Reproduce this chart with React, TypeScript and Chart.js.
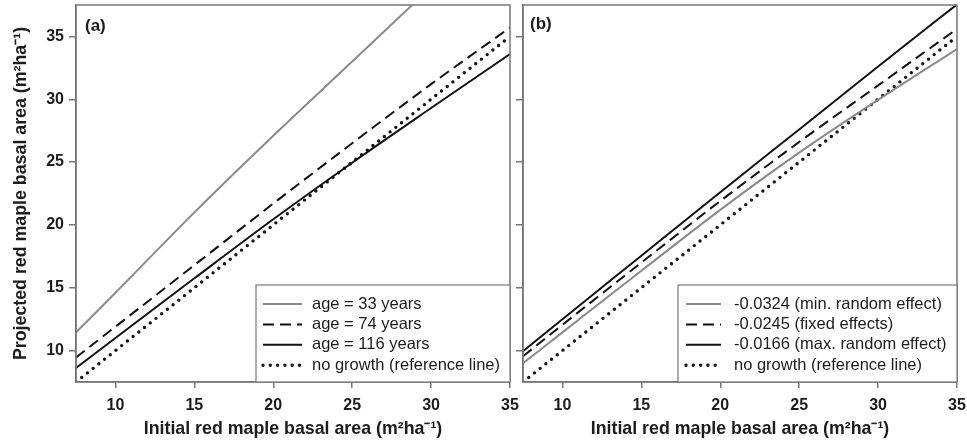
import React, { useEffect, useRef } from "react";
import { Chart, registerables } from "chart.js";

Chart.register(...registerables);

// ---------- data ----------
const basalArea = [7.5, 10, 15, 20, 25, 30, 35];

// panel (a): stand age effect
const age33 = [11.45, 14.6, 21.0, 27.1, 33.0, 38.9, 44.6];
const age74 = [9.45, 11.9, 16.8, 21.7, 26.5, 31.2, 35.7];
const age116 = [8.62, 11.0, 15.75, 20.45, 24.95, 29.3, 33.6];
const noGrowth = [7.5, 10, 15, 20, 25, 30, 35];

// panel (b): random effect of the coefficient
const minRandom = [9.0, 11.45, 16.35, 21.2, 25.75, 29.95, 34.0];
const fixedEffects = [9.55, 12.05, 17.0, 21.9, 26.6, 31.1, 35.6];
const maxRandom = [9.95, 12.5, 17.55, 22.6, 27.6, 32.6, 37.55];

const xTickValues = [10, 15, 20, 25, 30, 35];
const yTickValues = [10, 15, 20, 25, 30, 35];

const panelALabels = ["age = 33 years", "age = 74 years", "age = 116 years", "no growth (reference line)"];
const panelBLabels = [
  "-0.0324 (min. random effect)",
  "-0.0245 (fixed effects)",
  "-0.0166 (max. random effect)",
  "no growth (reference line)",
];

const xTitle = "Initial red maple basal area (m²ha⁻¹)";
const yTitle = "Projected red maple basal area (m²ha⁻¹)";

// ---------- styles ----------
const FONT = "'Liberation Sans', Arial, Helvetica, sans-serif";
const GRAY = "#8a8a8a";
const FRAME = "#777777";
const TEXT = "#1c1c1c";
const BLACK = "#111111";

const styleGray = { borderColor: GRAY, borderWidth: 2, borderDash: [] as number[], borderCapStyle: "butt" };
const styleDashed = { borderColor: BLACK, borderWidth: 2, borderDash: [11, 6], borderCapStyle: "butt" };
const styleSolid = { borderColor: BLACK, borderWidth: 2, borderDash: [] as number[], borderCapStyle: "butt" };
const styleDotted = { borderColor: BLACK, borderWidth: 3.4, borderDash: [0, 7.3], borderCapStyle: "round" };

const pts = (ys: number[]) => basalArea.map((x, i) => ({ x, y: ys[i] }));

const decorPlugin = {
  id: "panelDecor",
  afterDatasetsDraw(chart: any, _args: any, opts: any) {
    const { ctx, chartArea: ca } = chart;
    ctx.save();
    // frame
    ctx.strokeStyle = FRAME;
    ctx.lineWidth = 1.5;
    ctx.setLineDash([]);
    ctx.strokeRect(ca.left, ca.top, ca.right - ca.left, ca.bottom - ca.top);
    // panel tag
    ctx.fillStyle = TEXT;
    ctx.font = `bold 17px ${FONT}`;
    ctx.textBaseline = "middle";
    ctx.textAlign = "left";
    ctx.fillText(opts.tag, ca.left + opts.tagDx, ca.top + opts.tagDy);
    // legend box
    const bx = ca.right - opts.boxWidth;
    const by = ca.bottom - opts.boxHeight;
    ctx.fillStyle = "#ffffff";
    ctx.fillRect(bx, by, opts.boxWidth, opts.boxHeight);
    ctx.strokeStyle = FRAME;
    ctx.lineWidth = 1.2;
    ctx.strokeRect(bx, by, opts.boxWidth, opts.boxHeight);
    chart.data.datasets.forEach((ds: any, i: number) => {
      const y = by + opts.rowTop + i * opts.rowGap;
      ctx.save();
      ctx.strokeStyle = ds.borderColor;
      ctx.lineWidth = ds.borderWidth;
      ctx.setLineDash(ds.borderDash || []);
      ctx.lineCap = ds.borderCapStyle || "butt";
      ctx.beginPath();
      ctx.moveTo(bx + opts.sampleX, y);
      ctx.lineTo(bx + opts.sampleX + opts.sampleLen, y);
      ctx.stroke();
      ctx.restore();
      ctx.fillStyle = TEXT;
      ctx.font = `16.5px ${FONT}`;
      ctx.textBaseline = "middle";
      ctx.textAlign = "left";
      ctx.fillText(ds.label, bx + opts.textX, y);
    });
    ctx.restore();
  },
};

function makeConfig(datasets: any[], o: any): any {
  return {
    type: "line",
    data: { datasets },
    plugins: [decorPlugin],
    options: {
      responsive: false,
      animation: false,
      devicePixelRatio: 1,
      layout: { padding: { top: 5, right: 10, left: 0, bottom: 0 } },
      elements: { point: { radius: 0 }, line: { tension: 0, cubicInterpolationMode: "monotone" } },
      plugins: {
        legend: { display: false },
        tooltip: { enabled: false },
        panelDecor: o.decor,
      },
      scales: {
        x: {
          type: "linear",
          min: 7.5,
          max: 35,
          afterBuildTicks: (s: any) => {
            s.ticks = xTickValues.map((v) => ({ value: v }));
          },
          afterFit: (s: any) => {
            s.height = 63;
            s.paddingLeft = 0;
            s.paddingRight = 0;
          },
          ticks: {
            font: { size: 16, weight: "bold", family: FONT },
            color: TEXT,
            padding: 8,
            maxRotation: 0,
            autoSkip: false,
          },
          grid: { drawOnChartArea: false, drawTicks: true, tickLength: 6, color: FRAME, lineWidth: 1.5 },
          border: { display: true, color: FRAME, width: 1.5 },
          title: {
            display: true,
            text: xTitle,
            color: TEXT,
            font: { size: 17.8, weight: "bold", family: FONT },
            padding: { top: 0, bottom: 5 },
          },
        },
        y: {
          type: "linear",
          min: 7.5,
          max: 37.5,
          afterBuildTicks: (s: any) => {
            s.ticks = yTickValues.map((v) => ({ value: v }));
          },
          afterFit: (s: any) => {
            s.width = o.yWidth;
            s.paddingTop = 0;
            s.paddingBottom = 0;
          },
          ticks: {
            display: o.showYLabels,
            font: { size: 16, weight: "bold", family: FONT },
            color: TEXT,
            padding: 5,
          },
          grid: { drawOnChartArea: false, drawTicks: true, tickLength: 7, color: FRAME, lineWidth: 1.5 },
          border: { display: true, color: FRAME, width: 1.5 },
          title: {
            display: o.showYTitle,
            text: yTitle,
            color: TEXT,
            font: { size: 17.8, weight: "bold", family: FONT },
            padding: { top: 10, bottom: 0 },
          },
        },
      },
    },
  };
}

export default function App() {
  const refA = useRef<HTMLCanvasElement>(null);
  const refB = useRef<HTMLCanvasElement>(null);

  useEffect(() => {
    Chart.defaults.font.family = FONT;
    const dsA = [
      { label: panelALabels[0], data: pts(age33), ...styleGray },
      { label: panelALabels[1], data: pts(age74), ...styleDashed },
      { label: panelALabels[2], data: pts(age116), ...styleSolid },
      { label: panelALabels[3], data: pts(noGrowth), ...styleDotted },
    ];
    const dsB = [
      { label: panelBLabels[0], data: pts(minRandom), ...styleGray },
      { label: panelBLabels[1], data: pts(fixedEffects), ...styleDashed },
      { label: panelBLabels[2], data: pts(maxRandom), ...styleSolid },
      { label: panelBLabels[3], data: pts(noGrowth), ...styleDotted },
    ];
    const a = new Chart(
      refA.current!,
      makeConfig(dsA, {
        yWidth: 76,
        showYLabels: true,
        showYTitle: true,
        decor: {
          tag: "(a)",
          tagDx: 9,
          tagDy: 21,
          boxWidth: 254,
          boxHeight: 97,
          rowTop: 19,
          rowGap: 20.4,
          sampleX: 7,
          sampleLen: 39,
          textX: 56,
        },
      })
    );
    const b = new Chart(
      refB.current!,
      makeConfig(dsB, {
        yWidth: 11,
        showYLabels: false,
        showYTitle: false,
        decor: {
          tag: "(b)",
          tagDx: 7,
          tagDy: 19,
          boxWidth: 279,
          boxHeight: 97,
          rowTop: 19,
          rowGap: 20.4,
          sampleX: 8,
          sampleLen: 35,
          textX: 56,
        },
      })
    );
    return () => {
      a.destroy();
      b.destroy();
    };
  }, []);

  return (
    <div style={{ position: "fixed", left: 0, top: 0, width: 967, height: 445, background: "#ffffff" }}>
      <div style={{ position: "absolute", left: 0, top: 0, width: 520, height: 445 }}>
        <canvas ref={refA} width={520} height={445} style={{ display: "block" }} />
      </div>
      <div style={{ position: "absolute", left: 512, top: 0, width: 455, height: 445 }}>
        <canvas ref={refB} width={455} height={445} style={{ display: "block" }} />
      </div>
    </div>
  );
}
